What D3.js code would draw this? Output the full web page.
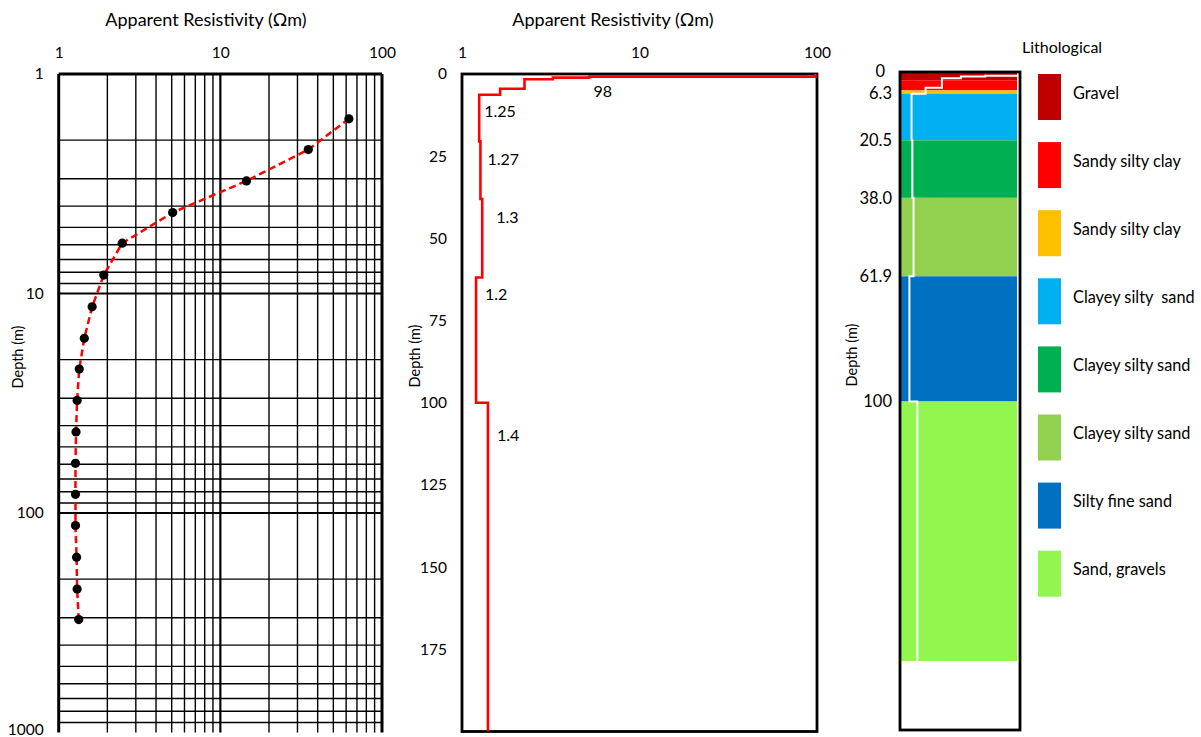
<!DOCTYPE html>
<html><head><meta charset="utf-8">
<script src="https://cdn.jsdelivr.net/npm/d3@7"></script>
<style>
body{margin:0;background:#fff}
text{font-family:Lato,"Open Sans",sans-serif;fill:#000}
</style>
</head><body>
<svg id="c" width="1201" height="737" xmlns="http://www.w3.org/2000/svg"></svg>
<script>
// ---------- data ----------
const rhoTicks = [1, 10, 100];
const rhoTickLabels = ["1", "10", "100"];
// left: sounding curve (AB/2 depth vs apparent resistivity)
const sondDepth = [1.6, 2.21, 3.07, 4.28, 5.9, 8.24, 11.5, 16, 22.1, 30.7, 42.7, 59.4, 82.2, 114, 159, 222, 306];
const sondRho   = [62.4, 35, 14.5, 5.07, 2.47, 1.90, 1.61, 1.44, 1.34, 1.30, 1.28, 1.27, 1.27, 1.27, 1.29, 1.30, 1.33];
const leftDepthTicks = [1, 10, 100, 1000];
const leftDepthTickLabels = ["1", "10", "100", "1000"];
// middle: layered model
const layerTop = [0, 0.8, 1.1, 1.6, 4.5, 6.3, 20.5, 38, 61.9, 100];
const layerRho = [98, 5.2, 3.25, 2.25, 1.64, 1.25, 1.27, 1.3, 1.2, 1.4];
const maxDepth = 200;
const midDepthTicks = [0, 25, 50, 75, 100, 125, 150, 175];
const annLabels = ["98", "1.25", "1.27", "1.3", "1.2", "1.4"];
const annLayer = [0, 5, 6, 7, 8, 9];
// right: lithology
const lithoNames = ["Gravel", "Sandy silty clay", "Sandy silty clay", "Clayey silty  sand", "Clayey silty sand", "Clayey silty sand", "Silty fine sand", "Sand, gravels"];
const lithoColors = ["#C00000", "#FF0000", "#FFC000", "#00B0F0", "#00B050", "#92D050", "#0070C0", "#93F64F"];
const lithoTop = [0, 2.2, 5.3, 6.3, 20.5, 38, 61.9, 100];
const lithoBottom = [2.2, 5.3, 6.3, 20.5, 38, 61.9, 100, 179];
const lithoTicks = [0, 6.3, 20.5, 38, 61.9, 100];
const lithoTickLabels = ["0", "6.3", "20.5", "38.0", "61.9", "100"];

// ---------- drawing ----------
const svg = d3.select("#c");
svg.append("rect").attr("width", 1201).attr("height", 737).attr("fill", "#fff");

function titleAt(x, txt) {
  svg.append("text").attr("x", x).attr("y", 26).attr("text-anchor", "middle")
    .style("font-size", "18px").text(txt);
}
function depthLabel(x, y) {
  svg.append("text").attr("transform", `translate(${x},${y}) rotate(-90)`)
    .attr("text-anchor", "middle").attr("dy", "0.35em").style("font-size", "14.5px").text("Depth (m)");
}
function styleAxis(g, size) {
  g.select(".domain").remove();
  g.selectAll("text").style("font-family", "Lato, 'Open Sans', sans-serif").style("font-size", size).attr("fill", "#000");
}

// ===== LEFT PANEL =====
const xL = d3.scaleLog().domain([1, 100]).range([58.7, 382]);
const yL = d3.scaleLog().domain([1, 1000]).range([74, 732.5]);
const gL = svg.append("g");
const xg = xL.ticks();
const yg = yL.ticks().filter(v => v < 1000);
gL.selectAll("line.v").data(xg).join("line")
  .attr("x1", d => xL(d)).attr("x2", d => xL(d))
  .attr("y1", yL(1)).attr("y2", yL(1000))
  .attr("stroke", "#000")
  .attr("stroke-width", d => (d === 1 || d === 100) ? 3 : (d === 10 ? 2.2 : 1.4));
gL.selectAll("line.h").data(yg).join("line")
  .attr("y1", d => yL(d)).attr("y2", d => yL(d))
  .attr("x1", xL(1)).attr("x2", xL(100))
  .attr("stroke", "#000")
  .attr("stroke-width", d => d === 1 ? 3 : ((d === 10 || d === 100) ? 2.2 : 1.4));
const sond = sondDepth.map((d, i) => ({d, r: sondRho[i]}));
gL.append("path").datum(sond)
  .attr("d", d3.line().x(p => xL(p.r)).y(p => yL(p.d)))
  .attr("fill", "none").attr("stroke", "#FF0000").attr("stroke-width", 2.5).attr("stroke-dasharray", "7,4");
gL.selectAll("circle").data(sond).join("circle")
  .attr("cx", p => xL(p.r)).attr("cy", p => yL(p.d)).attr("r", 4.6).attr("fill", "#000");
styleAxis(svg.append("g").attr("transform", `translate(0,${yL(1)})`)
  .call(d3.axisTop(xL).tickValues(rhoTicks).tickFormat((d, i) => rhoTickLabels[i]).tickSize(0).tickPadding(16)), "15.5px");
const lAx = svg.append("g").attr("transform", `translate(${xL(1)},0)`)
  .call(d3.axisLeft(yL).tickValues(leftDepthTicks).tickFormat((d, i) => leftDepthTickLabels[i]).tickSize(0).tickPadding(15));
styleAxis(lAx, "15.5px");
lAx.selectAll("text").filter(d => d === 1000).attr("dy", "0.1em");
titleAt(206, "Apparent Resistivity (Ωm)");
depthLabel(18, 357);

// ===== MIDDLE PANEL =====
const xM = d3.scaleLog().domain([1, 100]).range([462, 817]);
const yM = d3.scaleLinear().domain([0, maxDepth]).range([74, 731.5]);
const steps = [];
layerTop.forEach((t, i) => {
  const b = i < layerTop.length - 1 ? layerTop[i + 1] : maxDepth;
  steps.push({r: layerRho[i], d: t});
  steps.push({r: layerRho[i], d: b});
});
svg.append("rect").attr("x", xM(1)).attr("y", yM(0)).attr("width", xM(100) - xM(1)).attr("height", yM(maxDepth) - yM(0))
  .attr("fill", "none").attr("stroke", "#000").attr("stroke-width", 2.8);
svg.append("path").datum(steps)
  .attr("d", d3.line().x(p => xM(p.r)).y(p => yM(p.d)))
  .attr("fill", "none").attr("stroke", "#FF0000").attr("stroke-width", 2.6).attr("stroke-linejoin", "miter");
const annOff = [[-222, 17], [5, 16.3], [7, 17.6], [14, 18], [9, 16.5], [9, 33]];
annLabels.forEach((t, k) => {
  const li = annLayer[k];
  svg.append("text").attr("x", xM(layerRho[li]) + annOff[k][0]).attr("y", yM(layerTop[li]) + annOff[k][1])
    .attr("dy", "0.35em").style("font-size", "16px").text(t);
});
styleAxis(svg.append("g").attr("transform", `translate(0,${yM(0)})`)
  .call(d3.axisTop(xM).tickValues(rhoTicks).tickFormat((d, i) => rhoTickLabels[i]).tickSize(0).tickPadding(16)), "15.5px");
styleAxis(svg.append("g").attr("transform", `translate(${xM(1)},0)`)
  .call(d3.axisLeft(yM).tickValues(midDepthTicks).tickSize(0).tickPadding(15)), "15.5px");
titleAt(613, "Apparent Resistivity (Ωm)");
depthLabel(415, 356);

// ===== RIGHT PANEL =====
const xR = d3.scaleLog().domain([1, 10]).range([900, 1019]);
const yR = d3.scaleLinear().domain([0, maxDepth]).range([73, 730]);
const colX0 = 900, colX1 = 1017;
svg.append("clipPath").attr("id", "colclip").append("rect")
  .attr("x", colX0).attr("y", yR(0)).attr("width", colX1 - colX0 + 2).attr("height", yR(maxDepth) - yR(0));
svg.selectAll("rect.litho").data(lithoTop).join("rect").attr("class", "litho")
  .attr("x", colX0).attr("width", colX1 - colX0)
  .attr("y", (d) => yR(d)).attr("height", (d, i) => yR(lithoBottom[i]) - yR(d))
  .attr("fill", (d, i) => lithoColors[i]);
svg.append("path").datum(steps).attr("clip-path", "url(#colclip)")
  .attr("d", d3.line().x(p => xR(p.r)).y(p => yR(p.d)))
  .attr("fill", "none").attr("stroke", "#fff").attr("stroke-width", 2);
svg.append("rect").attr("x", xR(1)).attr("y", yR(0) - 1).attr("width", 120).attr("height", yR(maxDepth) - yR(0) + 1)
  .attr("fill", "none").attr("stroke", "#000").attr("stroke-width", 2.8);
const rAx = svg.append("g").attr("transform", `translate(${xR(1)},0)`)
  .call(d3.axisLeft(yR).tickValues(lithoTicks).tickFormat((d, i) => lithoTickLabels[i]).tickSize(0).tickPadding(8));
styleAxis(rAx, "16.5px");
rAx.selectAll("text").filter(d => d === 0).attr("x", -15).attr("dy", "0.2em");
depthLabel(852, 355);
svg.append("text").attr("x", 1022).attr("y", 47).attr("dy", "0.35em").style("font-size", "16px").text("Lithological");
const leg = svg.selectAll("g.leg").data(lithoNames).join("g").attr("class", "leg")
  .attr("transform", (d, i) => `translate(1038,${74 + i * 68.1})`);
leg.append("rect").attr("width", 23).attr("height", 46).attr("fill", (d, i) => lithoColors[i]);
leg.append("text").attr("x", 35).attr("y", 19).attr("dy", "0.35em").style("font-size", "16.3px")
  .style("white-space", "pre").attr("xml:space", "preserve").text(d => d);
</script>
</body></html>
